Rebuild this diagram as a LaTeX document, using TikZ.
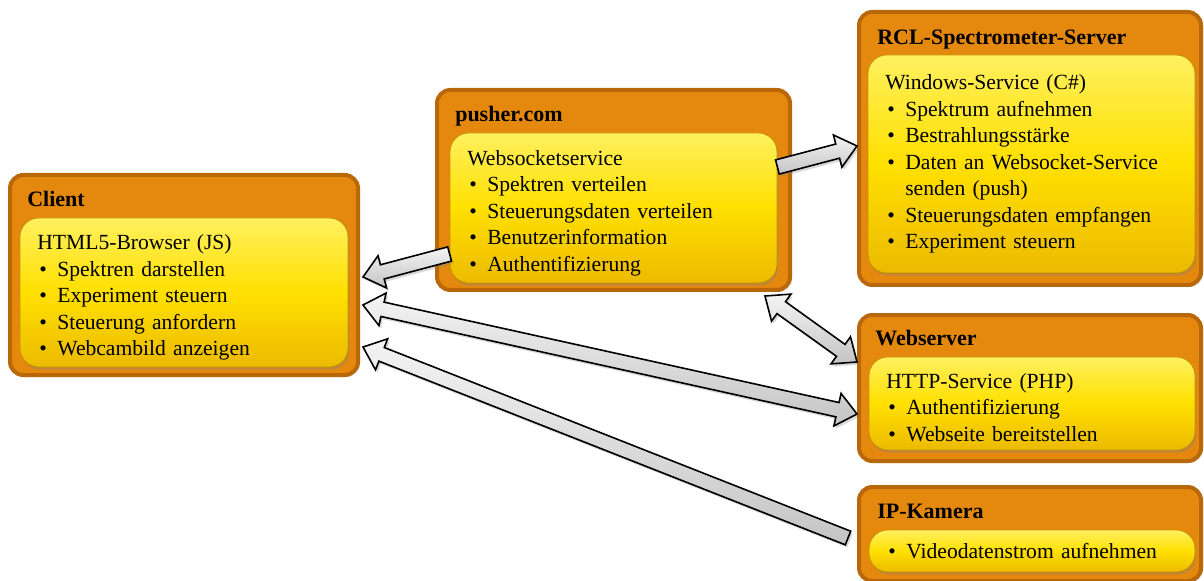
\documentclass[tikz,border=0pt]{standalone}
\usepackage{fontspec}
\setmainfont{Liberation Serif}
\usepackage{tikz}
\usetikzlibrary{calc, shadows, positioning}
\definecolor{boxorange}{RGB}{229,137,14}
\definecolor{boxrim}{RGB}{184,104,8}
\definecolor{svcyellow}{RGB}{255,224,0}
\definecolor{svclight}{RGB}{255,240,95}
\definecolor{svcdark}{RGB}{236,186,0}
\definecolor{svcrim}{RGB}{196,146,0}
\definecolor{linklight}{RGB}{244,244,244}
\definecolor{linkdark}{RGB}{196,196,196}

\newcommand{\bul}{\makebox[15pt][l]{\hspace{1.5pt}\textbullet}}
\newcommand{\lift}[1]{\rule{0pt}{#1}}
% single block arrow: #1 tail, #2 tip
\newcommand{\blockarrow}[2]{%
    \path #1 coordinate (ba-a);
    \path #2 coordinate (ba-b);
    \path ($(ba-b)!15pt!(ba-a)$) coordinate (ba-h);
    \path[link] ($(ba-a)!5.5pt!90:(ba-b)$) -- ($(ba-h)!5.5pt!90:(ba-b)$)
        -- ($(ba-h)!12.5pt!90:(ba-b)$) -- (ba-b) -- ($(ba-h)!12.5pt!-90:(ba-b)$)
        -- ($(ba-h)!5.5pt!-90:(ba-b)$) -- ($(ba-a)!5.5pt!-90:(ba-b)$) -- cycle;
}
% double block arrow: heads at both ends
\newcommand{\dblockarrow}[2]{%
    \path #1 coordinate (ba-a);
    \path #2 coordinate (ba-b);
    \path ($(ba-a)!15pt!(ba-b)$) coordinate (ba-g);
    \path ($(ba-b)!15pt!(ba-a)$) coordinate (ba-h);
    \path[link] (ba-a) -- ($(ba-g)!12.5pt!90:(ba-b)$) -- ($(ba-g)!5.5pt!90:(ba-b)$)
        -- ($(ba-h)!5.5pt!90:(ba-b)$) -- ($(ba-h)!12.5pt!90:(ba-b)$) -- (ba-b)
        -- ($(ba-h)!12.5pt!-90:(ba-b)$) -- ($(ba-h)!5.5pt!-90:(ba-b)$)
        -- ($(ba-g)!5.5pt!-90:(ba-b)$) -- ($(ba-g)!12.5pt!-90:(ba-b)$) -- cycle;
}

\begin{document}
\begin{tikzpicture}[
    x=0.75pt, y=-0.75pt,
    server/.style={draw=boxrim, line width=3pt, fill=boxorange, rounded corners=10pt,
        drop shadow={opacity=0.3, shadow xshift=1.5pt, shadow yshift=-1.5pt}},
    service/.style={draw=svcrim, line width=0.6pt, rounded corners=14pt,
        top color=svclight, bottom color=svcdark, middle color=svcyellow,
        align=left, inner xsep=13pt, font=\fontsize{16.2}{19.9}\selectfont,
        drop shadow={opacity=0.35, shadow xshift=1pt, shadow yshift=-2pt}},
    title/.style={anchor=base west, inner sep=0pt, font=\fontsize{16.5}{19}\selectfont\bfseries},
    link/.style={draw=black, line width=1.2pt, line join=miter,
        top color=linklight, bottom color=linkdark,
        drop shadow={opacity=0.3, shadow xshift=1.5pt, shadow yshift=-2pt}}
]
    \useasboundingbox (0,0) rectangle (1204,581);

    % Server boxes
    \node[server, minimum width=261pt, minimum height=150pt] (client) at (184,275) {};
    \node[server, minimum width=264.75pt, minimum height=150pt] (pusher) at (613.5,190) {};
    \node[server, minimum width=256.5pt, minimum height=204.75pt] (rcl) at (1030,148.5) {};
    \node[server, minimum width=256.5pt, minimum height=109.5pt] (websrv) at (1030,388) {};
    \node[server, minimum width=256.5pt, minimum height=70.5pt] (ipcam) at (1030,534) {};

    % Titles
    \node[title] (clientlbl) at (27,207) {Client};
    \node[title] (pusherlbl) at (455,122) {pusher.com};
    \node[title] (rcllbl) at (877,45) {RCL-Spectrometer-Server};
    \node[title] (websrvlbl) at (875,345) {Webserver};
    \node[title] (ipcamlbl) at (877,518) {IP-Kamera};

    % Services
    \node[service, text width=220pt, minimum height=111.75pt] (clientjs) at (184,292.5)
        {\lift{19pt}HTML5-Browser (JS)\\ \bul Spektren darstellen\\ \bul Experiment steuern\\
         \bul Steuerung anfordern\\ \bul Webcambild anzeigen};
    \node[service, text width=219.25pt, minimum height=112.5pt] (pushersvc) at (613.5,208)
        {\lift{19pt}Websocketservice\\ \bul Spektren verteilen\\ \bul Steuerungsdaten verteilen\\
         \bul Benutzerinformation\\ \bul Authentifizierung};
    \node[service, text width=219.25pt, minimum height=163.5pt] (rclsvc) at (1031.5,164)
        {Windows-Service (C\#)\\ \bul Spektrum aufnehmen\\ \bul Bestrahlungsstärke\\
         \bul Daten an Websocket-Service\\ \hspace*{15pt}senden (push)\\
         \bul Steuerungsdaten empfangen\\ \bul Experiment steuern};
    \node[service, text width=218.5pt, minimum height=69.75pt] (websrvphp) at (1032,403.5)
        {\lift{17pt}HTTP-Service (PHP)\\ \bul Authentifizierung\\ \bul Webseite bereitstellen};
    \node[service, text width=218.5pt, minimum height=31.5pt] (ipcamsvc) at (1032,551)
        {\bul Videodatenstrom aufnehmen};

    % Links
    \blockarrow{(pushersvc.east |- 0,167)}{(rcl.west |- 0,146)}
    \blockarrow{(pushersvc.west |- 0,254)}{($(client.east |- 0,277)+(3,0)$)}
    \dblockarrow{($(pusher.south -| 765,0)+(0,4)$)}{(websrv.west |- 0,362)}
    \dblockarrow{($(client.east |- 0,305)+(3,0)$)}{(websrv.west |- 0,414)}
    \blockarrow{($(ipcam.west |- 0,538)+(-9,0)$)}{($(client.east |- 0,347)+(3,0)$)}
\end{tikzpicture}
\end{document}
